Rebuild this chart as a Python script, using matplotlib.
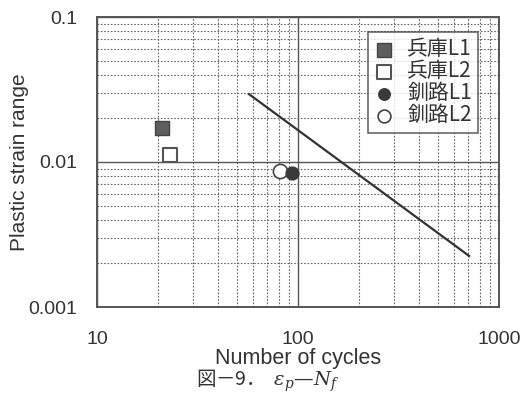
import matplotlib
matplotlib.use("Agg")
import matplotlib.pyplot as plt
from matplotlib.ticker import LogLocator, NullFormatter, FixedLocator, FixedFormatter

plt.rcParams['font.family'] = ['Liberation Sans', 'Noto Sans CJK JP', 'DejaVu Sans']
plt.rcParams['mathtext.fontset'] = 'dejavuserif'

# data
series_names = ["兵庫L1", "兵庫L2", "釧路L1", "釧路L2"]
cycles = [21, 23, 93, 81]
strain = [0.0171, 0.0112, 0.0084, 0.0087]
line_cycles = [57, 710]
line_strain = [0.0294, 0.00225]

x_ticks = [10, 100, 1000]
y_ticks = [0.001, 0.01, 0.1]
x_labels = ["10", "100", "1000"]
y_labels = ["0.001", "0.01", "0.1"]

styles = [
    dict(marker='s', s=110, facecolor='#5e5e5e', edgecolor='#444444'),
    dict(marker='s', s=110, facecolor='white', edgecolor='#555555', linewidths=1.5),
    dict(marker='o', s=85, facecolor='#3a3a3a', edgecolor='#3a3a3a'),
    dict(marker='o', s=105, facecolor='white', edgecolor='#444444', linewidths=1.2),
]

fig = plt.figure(figsize=(5.24, 3.94), dpi=100)
ax = fig.add_axes([97/524, 1 - 307/394, 402/524, 290/394])
ax.set_xscale('log')
ax.set_yscale('log')
ax.set_xlim(10, 1000)
ax.set_ylim(0.001, 0.1)

ax.plot(line_cycles, line_strain, color='#333333', lw=1.6, zorder=3)
# open circle drawn under the filled one, as in the picture
handles = []
for i in range(4):
    h = ax.scatter(cycles[i], strain[i], zorder=4 if i != 3 else 3.5, label=series_names[i], **styles[i])
    handles.append(h)

ax.xaxis.set_major_locator(FixedLocator(x_ticks))
ax.xaxis.set_major_formatter(FixedFormatter(x_labels))
ax.yaxis.set_major_locator(FixedLocator(y_ticks))
ax.yaxis.set_major_formatter(FixedFormatter(y_labels))
ax.xaxis.set_minor_locator(LogLocator(base=10, subs=range(2, 10)))
ax.yaxis.set_minor_locator(LogLocator(base=10, subs=range(2, 10)))
ax.xaxis.set_minor_formatter(NullFormatter())
ax.yaxis.set_minor_formatter(NullFormatter())

ax.grid(which='major', color='#555555', lw=1.0, ls='-')
ax.grid(which='minor', color='#666666', lw=0.8, ls=(0, (1.5, 1.5)))
ax.set_axisbelow(True)
ax.tick_params(which='both', length=0, labelsize=14, colors='#333333')
ax.tick_params(axis='x', pad=17)
ax.tick_params(axis='y', pad=14)
for s in ax.spines.values():
    s.set_color('#555555')
    s.set_linewidth(1.4)

ax.set_xlabel("Number of cycles", fontsize=15.5, color='#333333', labelpad=0.5)
ax.set_ylabel("Plastic strain range", fontsize=15, color='#333333', labelpad=0)

leg = ax.legend(handles=handles, loc='upper right', bbox_to_anchor=(0.948, 0.948),
                borderaxespad=0, frameon=True, fancybox=False, edgecolor='#444444',
                labelspacing=0.0, handletextpad=0.6, borderpad=0.3,
                handlelength=1.0, markerscale=0.9,
                prop={'family': ['Noto Sans CJK JP', 'DejaVu Sans'], 'size': 15})
leg.get_frame().set_linewidth(1.2)
for t in leg.get_texts():
    t.set_color('#333333')

fig.text(268/524, 1 - 381/394, "図－9．  $\\varepsilon_p$—$N_f$", ha='center', va='center',
         fontsize=14, color='#333333', family=['Noto Sans CJK JP', 'DejaVu Sans'])

fig.savefig("out.png", dpi=100)
